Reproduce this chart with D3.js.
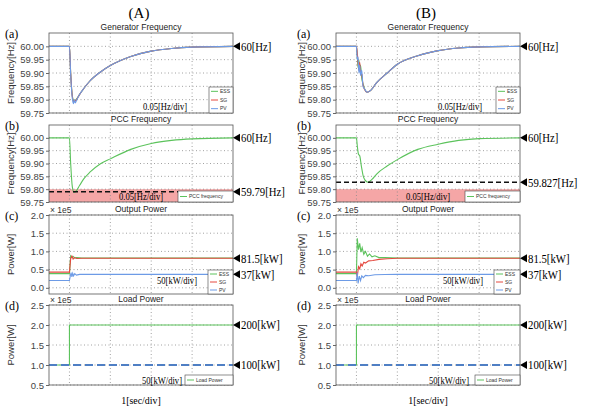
<!DOCTYPE html>
<html>
<head>
<meta charset="utf-8">
<script src="https://cdn.jsdelivr.net/npm/d3@7"></script>
<style>
  body { margin: 0; background: #fff; }
  svg { display: block; }
  .tick text { font-family: "Liberation Sans", Arial, sans-serif; font-size: 9.5px; fill: #444; }
  .tick line { stroke: #666; }
</style>
</head>
<body>
<script>
// time axis, 1 sec per division
var timeDomain = [-0.5, 4];
var gridTimes = [0, 1, 2, 3];

var freqTicks = [59.75, 59.80, 59.85, 59.90, 59.95, 60.00];
var outTicks = [0.0, 0.5, 1.0, 1.5, 2.0];
var loadTicks = [0.5, 1.0, 1.5, 2.0, 2.5];

// (A) generator frequency [s, Hz]
var genFreqA_ESS = [[-0.5,60],[0,60],[0.03,59.9],[0.07,59.815],[0.11,59.795],[0.16,59.8],[0.25,59.82],[0.35,59.842],[0.5,59.87],[0.75,59.903],[1,59.928],[1.5,59.962],[2,59.982],[2.5,59.992],[3,59.997],[4,60]];
var genFreqA_SG  = [[-0.5,60],[0,60],[0.03,59.9],[0.07,59.812],[0.11,59.792],[0.16,59.798],[0.25,59.82],[0.35,59.842],[0.5,59.87],[0.75,59.903],[1,59.928],[1.5,59.962],[2,59.982],[2.5,59.992],[3,59.997],[4,60]];
var genFreqA_PV  = [[-0.5,60],[0,60],[0.03,59.895],[0.07,59.805],[0.1,59.785],[0.12,59.8],[0.14,59.788],[0.18,59.8],[0.25,59.82],[0.35,59.842],[0.5,59.87],[0.75,59.903],[1,59.928],[1.5,59.962],[2,59.982],[2.5,59.992],[3,59.997],[4,60]];

// (B) generator frequency [s, Hz]
var genFreqB_ESS = [[-0.5,60],[0,60],[0.02,59.965],[0.04,59.92],[0.06,59.95],[0.08,59.905],[0.1,59.93],[0.13,59.88],[0.16,59.86],[0.2,59.84],[0.26,59.828],[0.35,59.835],[0.5,59.865],[0.75,59.9],[1,59.933],[1.5,59.965],[2,59.984],[2.5,59.994],[3,59.998],[4,60]];
var genFreqB_SG  = [[-0.5,60],[0,60],[0.02,59.975],[0.04,59.94],[0.06,59.91],[0.08,59.94],[0.1,59.9],[0.13,59.895],[0.16,59.855],[0.2,59.838],[0.26,59.828],[0.35,59.835],[0.5,59.865],[0.75,59.9],[1,59.933],[1.5,59.965],[2,59.984],[2.5,59.994],[3,59.998],[4,60]];
var genFreqB_PV  = [[-0.5,60],[0,60],[0.02,59.95],[0.04,59.96],[0.06,59.9],[0.08,59.93],[0.1,59.89],[0.13,59.91],[0.16,59.85],[0.2,59.84],[0.26,59.828],[0.35,59.835],[0.5,59.865],[0.75,59.9],[1,59.933],[1.5,59.965],[2,59.984],[2.5,59.994],[3,59.998],[4,60]];

// PCC frequency [s, Hz]
var pccFreqA = [[-0.5,60],[0,60],[0.03,59.9],[0.07,59.81],[0.11,59.788],[0.16,59.792],[0.25,59.815],[0.35,59.84],[0.5,59.866],[0.75,59.898],[1,59.918],[1.5,59.955],[2,59.978],[2.5,59.99],[3,59.996],[4,60]];
var pccFreqB = [[-0.5,60],[0,60],[0.02,59.97],[0.05,59.936],[0.08,59.93],[0.12,59.89],[0.16,59.855],[0.21,59.835],[0.28,59.827],[0.38,59.838],[0.5,59.86],[0.75,59.89],[1,59.915],[1.5,59.955],[2,59.975],[2.5,59.99],[3,59.997],[4,60]];
var pccLimit = [59.75, 59.80];
var pccMinA = 59.79;
var pccMinB = 59.827;

// output power [s, x1e5 W]
var powA_ESS = [[-0.5,0.39],[0,0.39],[0.03,0.88],[0.06,0.84],[0.09,0.86],[0.13,0.82],[0.18,0.83],[0.3,0.82],[4,0.82]];
var powA_SG  = [[-0.5,0.43],[0,0.43],[0.03,0.8],[0.06,0.87],[0.09,0.79],[0.13,0.83],[0.18,0.805],[0.3,0.812],[4,0.812]];
var powA_PV  = [[-0.5,0.2],[0,0.2],[0.02,0.32],[0.04,0.42],[0.06,0.3],[0.08,0.4],[0.1,0.33],[0.13,0.39],[0.17,0.35],[0.25,0.37],[4,0.37]];
var powB_ESS = [[-0.5,0.39],[0,0.39],[0.02,1.36],[0.05,1.05],[0.08,1.22],[0.11,0.98],[0.14,1.1],[0.18,0.92],[0.22,1.0],[0.27,0.87],[0.32,0.93],[0.38,0.85],[0.45,0.88],[0.55,0.83],[0.7,0.83],[1,0.82],[4,0.82]];
var powB_SG  = [[-0.5,0.43],[0,0.43],[0.02,0.3],[0.05,0.58],[0.08,0.52],[0.11,0.66],[0.14,0.6],[0.18,0.7],[0.22,0.68],[0.3,0.74],[0.4,0.75],[0.55,0.78],[0.75,0.8],[1,0.81],[4,0.812]];
var powB_PV  = [[-0.5,0.2],[0,0.2],[0.02,0.42],[0.04,0.12],[0.07,0.32],[0.1,0.2],[0.13,0.33],[0.17,0.28],[0.22,0.34],[0.3,0.33],[0.45,0.36],[0.7,0.365],[1,0.37],[4,0.37]];

// load power [s, x1e5 W]
var loadA = [[-0.5,1.0],[0,1.0],[0,2.0],[4,2.0]];
var loadB = [[-0.5,1.0],[0,1.0],[0,2.0],[4,2.0]];
var loadBase = 1.0;

var colESS = "#5cc35c", colSG = "#e5483f", colPV = "#6d9be6";

var svg = d3.select("body").append("svg")
    .attr("width", 592)
    .attr("height", 409);

var cols = [
    {label: "(A)", x0: 49, x1: 233, tagX: 5, yLabX: 14},
    {label: "(B)", x0: 336, x1: 520, tagX: 297, yLabX: 305}
];
var rows = [
    {top: 33, bottom: 113, tag: "(a)"},
    {top: 125, bottom: 202, tag: "(b)"},
    {top: 215, bottom: 294, tag: "(c)"},
    {top: 305, bottom: 385, tag: "(d)"}
];

var fmt2 = d3.format(".2f"), fmt1 = d3.format(".1f");
var legend3 = [{name: "ESS", color: colESS}, {name: "SG", color: colSG}, {name: "PV", color: colPV}];

var panels = [
    // column A
    {c: 0, r: 0, title: "Generator Frequency", yLabel: "Frequency[Hz]", domain: [59.75, 60.05], ticks: freqTicks, fmt: fmt2,
     series: [[genFreqA_ESS, colESS], [genFreqA_SG, colSG], [genFreqA_PV, colPV]], smooth: true,
     marks: [[60, "60[Hz]"]], div: ["0.05[Hz/div]", 116, 111],
     legend: {x: 160, y: 87, w: 24, h: 26, items: legend3}},
    {c: 0, r: 1, title: "PCC Frequency", yLabel: "Frequency[Hz]", domain: [59.75, 60.05], ticks: freqTicks, fmt: fmt2,
     band: pccLimit, dashLine: pccMinA,
     series: [[pccFreqA, colESS]], smooth: true,
     marks: [[60, "60[Hz]"], [pccMinA, "59.79[Hz]"]], div: ["0.05[Hz/div]", 92, 201],
     legend: {x: 129, y: 191, w: 55, h: 11, items: [{name: "PCC frequency", color: colESS}]}},
    {c: 0, r: 2, title: "Output Power", yLabel: "Power[W]", domain: [-0.17, 2.0], ticks: outTicks, fmt: fmt1, exp: true,
     series: [[powA_ESS, colESS], [powA_SG, colSG], [powA_PV, colPV]],
     marks: [[0.815, "81.5[kW]"], [0.37, "37[kW]"]], div: ["50[kW/div]", 128, 285],
     legend: {x: 159, y: 270, w: 25, h: 24, items: legend3}},
    {c: 0, r: 3, title: "Load Power", yLabel: "Power[W]", domain: [0.5, 2.5], ticks: loadTicks, fmt: fmt1, exp: true,
     baseLine: loadBase,
     series: [[loadA, colESS]],
     marks: [[2.0, "200[kW]"], [1.0, "100[kW]"]], div: ["50[kW/div]", 113, 385],
     legend: {x: 136, y: 375, w: 48, h: 10, items: [{name: "Load Power", color: colESS}]}},
    // column B
    {c: 1, r: 0, title: "Generator Frequency", yLabel: "Frequency[Hz]", domain: [59.75, 60.05], ticks: freqTicks, fmt: fmt2,
     series: [[genFreqB_ESS, colESS], [genFreqB_SG, colSG], [genFreqB_PV, colPV]], smooth: true,
     marks: [[60, "60[Hz]"]], div: ["0.05[Hz/div]", 124, 111],
     legend: {x: 160, y: 87, w: 24, h: 26, items: legend3}},
    {c: 1, r: 1, title: "PCC Frequency", yLabel: "Frequency[Hz]", domain: [59.75, 60.05], ticks: freqTicks, fmt: fmt2,
     band: pccLimit, dashLine: pccMinB,
     series: [[pccFreqB, colESS]], smooth: true,
     marks: [[60, "60[Hz]"], [pccMinB, "59.827[Hz]"]], div: ["0.05[Hz/div]", 92, 201],
     legend: {x: 129, y: 191, w: 55, h: 11, items: [{name: "PCC frequency", color: colESS}]}},
    {c: 1, r: 2, title: "Output Power", yLabel: "Power[W]", domain: [-0.17, 2.0], ticks: outTicks, fmt: fmt1, exp: true,
     series: [[powB_ESS, colESS], [powB_SG, colSG], [powB_PV, colPV]],
     marks: [[0.815, "81.5[kW]"], [0.37, "37[kW]"]], div: ["50[kW/div]", 127, 285],
     legend: {x: 158, y: 270, w: 26, h: 24, items: legend3}},
    {c: 1, r: 3, title: "Load Power", yLabel: "Power[W]", domain: [0.5, 2.5], ticks: loadTicks, fmt: fmt1, exp: true,
     baseLine: loadBase,
     series: [[loadB, colESS]],
     marks: [[2.0, "200[kW]"], [1.0, "100[kW]"]], div: ["50[kW/div]", 113, 385],
     legend: {x: 139, y: 375, w: 45, h: 10, items: [{name: "Load Power", color: colESS}]}}
];

// squeeze serif labels horizontally, the source figure uses a narrow face
function condense(sel, ratio){
    sel.each(function(){
        var len = this.getComputedTextLength();
        d3.select(this)
            .attr("textLength", len * ratio)
            .attr("lengthAdjust", "spacingAndGlyphs");
    });
}

panels.forEach(function(p, i){
    drawPanel(p, cols[p.c], rows[p.r], i);
});

// column headings and x-axis notes
cols.forEach(function(col){
    var cx = (col.x0 + col.x1) / 2;
    svg.append("text")
        .attr("x", cx - 2).attr("y", 18)
        .attr("text-anchor", "middle")
        .style("font-family", "Liberation Serif, serif")
        .style("font-size", "15px")
        .text(col.label);
    svg.append("text")
        .attr("x", cx).attr("y", 404)
        .attr("text-anchor", "middle")
        .style("font-family", "Liberation Serif, serif")
        .style("font-size", "11px")
        .text("1[sec/div]")
        .call(condense, 0.9);
});

function drawPanel(p, col, row, idx){
    var x = d3.scaleLinear().domain(timeDomain).range([col.x0, col.x1]);
    var y = d3.scaleLinear().domain(p.domain).range([row.bottom, row.top]);
    var g = svg.append("g");
    var w = col.x1 - col.x0, h = row.bottom - row.top;

    g.append("clipPath").attr("id", "clip" + idx)
        .append("rect")
        .attr("x", col.x0).attr("y", row.top)
        .attr("width", w).attr("height", h);

    g.append("rect")
        .attr("x", col.x0).attr("y", row.top)
        .attr("width", w).attr("height", h)
        .attr("fill", "#fff");

    if (p.band){
        g.append("rect")
            .attr("x", col.x0).attr("y", y(p.band[1]))
            .attr("width", w).attr("height", y(p.band[0]) - y(p.band[1]))
            .attr("fill", "#f5a6a6");
    }

    // dotted grid
    g.selectAll(".hgrid")
        .data(p.ticks)
        .enter()
        .append("line")
        .attr("x1", col.x0).attr("x2", col.x1)
        .attr("y1", d => y(d)).attr("y2", d => y(d))
        .attr("stroke", "#8a8a8a")
        .attr("stroke-width", 0.8)
        .attr("stroke-dasharray", "1,2.5");
    g.selectAll(".vgrid")
        .data(gridTimes)
        .enter()
        .append("line")
        .attr("x1", d => x(d)).attr("x2", d => x(d))
        .attr("y1", row.top).attr("y2", row.bottom)
        .attr("stroke", "#8a8a8a")
        .attr("stroke-width", 0.8)
        .attr("stroke-dasharray", "1,2.5");

    var plot = g.append("g").attr("clip-path", "url(#clip" + idx + ")");

    var line = d3.line()
        .x(d => x(d[0]))
        .y(d => y(d[1]))
        .curve(p.smooth ? d3.curveMonotoneX : d3.curveLinear);

    p.series.forEach(function(s){
        plot.append("path")
            .datum(s[0])
            .attr("fill", "none")
            .attr("stroke", s[1])
            .attr("stroke-width", 1.1)
            .attr("d", line);
    });

    if (p.dashLine !== undefined){
        plot.append("line")
            .attr("x1", col.x0).attr("x2", col.x1)
            .attr("y1", y(p.dashLine)).attr("y2", y(p.dashLine))
            .attr("stroke", "#111")
            .attr("stroke-width", 1.4)
            .attr("stroke-dasharray", "5,3");
    }
    if (p.baseLine !== undefined){
        plot.append("line")
            .attr("x1", col.x0).attr("x2", col.x1)
            .attr("y1", y(p.baseLine)).attr("y2", y(p.baseLine))
            .attr("stroke", "#4f7fc4")
            .attr("stroke-width", 2)
            .attr("stroke-dasharray", "8,4");
    }

    g.append("rect")
        .attr("x", col.x0).attr("y", row.top)
        .attr("width", w).attr("height", h)
        .attr("fill", "none")
        .attr("stroke", "#555")
        .attr("stroke-width", 0.8);

    var axis = g.append("g")
        .attr("transform", "translate(" + col.x0 + ",0)")
        .call(d3.axisLeft(y).tickValues(p.ticks).tickFormat(p.fmt).tickSize(3).tickPadding(2));
    axis.select(".domain").remove();

    g.append("text")
        .attr("x", col.x0 + w / 2).attr("y", row.top - 3)
        .attr("text-anchor", "middle")
        .style("font-family", "Liberation Sans, Arial, sans-serif")
        .style("font-size", "8.5px")
        .style("fill", "#222")
        .text(p.title);

    g.append("text")
        .attr("transform", "translate(" + col.yLabX + "," + (row.top + h / 2) + ") rotate(-90)")
        .attr("text-anchor", "middle")
        .style("font-family", "Liberation Sans, Arial, sans-serif")
        .style("font-size", "9.5px")
        .style("fill", "#333")
        .text(p.yLabel);

    g.append("text")
        .attr("x", col.tagX).attr("y", row.top + 5)
        .style("font-family", "Liberation Serif, serif")
        .style("font-size", "12px")
        .text(row.tag);

    if (p.exp){
        g.append("text")
            .attr("x", col.x0 + 1).attr("y", row.top - 2)
            .style("font-family", "Liberation Sans, Arial, sans-serif")
            .style("font-size", "8.5px")
            .style("fill", "#333")
            .text("\u00d7 1e5");
    }

    // pointer marks on the right
    p.marks.forEach(function(m){
        var yv = y(m[0]);
        g.append("path")
            .attr("d", "M" + col.x1 + "," + yv + "L" + (col.x1 + 7) + "," + (yv - 4) + "L" + (col.x1 + 7) + "," + (yv + 4) + "Z")
            .attr("fill", "#000");
        g.append("text")
            .attr("x", col.x1 + 8).attr("y", yv)
            .attr("dy", "0.35em")
            .style("font-family", "Liberation Serif, serif")
            .style("font-size", "12.5px")
            .text(m[1])
            .call(condense, 0.86);
    });

    g.append("text")
        .attr("x", col.x0 + p.div[1]).attr("y", p.div[2] - 1)
        .attr("text-anchor", "middle")
        .style("font-family", "Liberation Serif, serif")
        .style("font-size", "11px")
        .text(p.div[0])
        .call(condense, 0.78);

    // legend
    var lg = p.legend;
    var lx = col.x0 + lg.x, ly = lg.y;
    g.append("rect")
        .attr("x", lx).attr("y", ly)
        .attr("width", lg.w).attr("height", lg.h)
        .attr("fill", "#fff")
        .attr("stroke", "#444")
        .attr("stroke-width", 0.6);
    var step = lg.h / lg.items.length;
    lg.items.forEach(function(it, k){
        var yy = ly + step * (k + 0.5);
        g.append("line")
            .attr("x1", lx + 2).attr("x2", lx + 9)
            .attr("y1", yy).attr("y2", yy)
            .attr("stroke", it.color)
            .attr("stroke-width", 1);
        g.append("text")
            .attr("x", lx + 11).attr("y", yy)
            .attr("dy", "0.35em")
            .style("font-family", "Liberation Sans, Arial, sans-serif")
            .style("font-size", "5px")
            .style("fill", "#333")
            .text(it.name);
    });
}
</script>
</body>
</html>
